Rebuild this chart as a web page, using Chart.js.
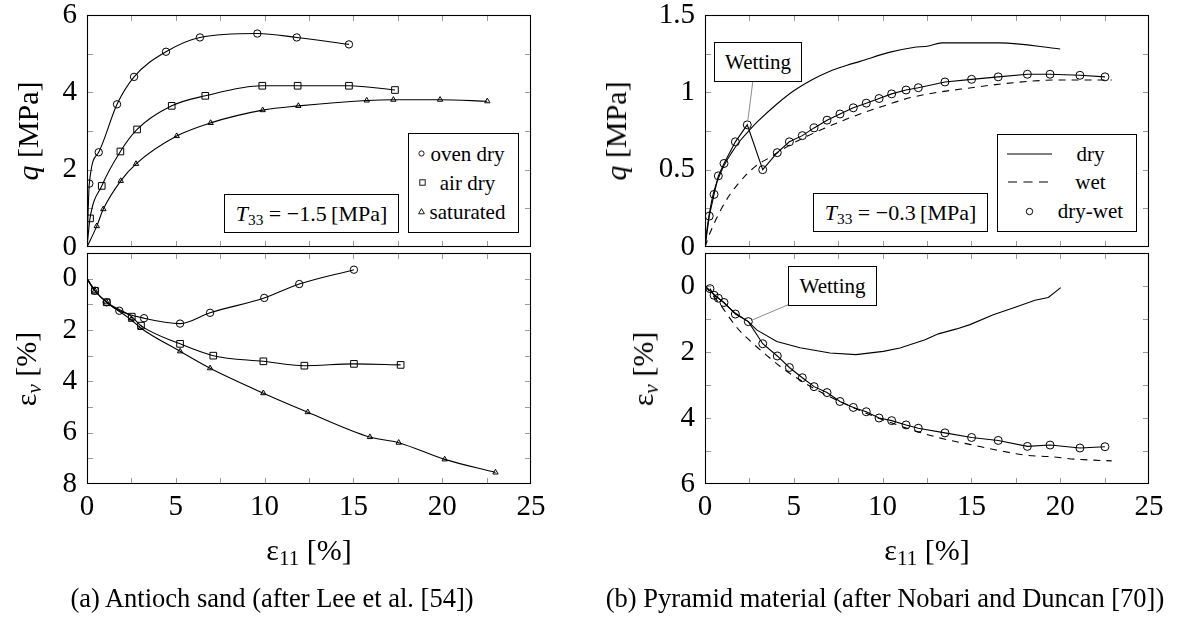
<!DOCTYPE html>
<html><head><meta charset="utf-8">
<script src="https://cdn.jsdelivr.net/npm/chart.js@4.4.1/dist/chart.umd.min.js"></script>
<style>
html,body{margin:0;padding:0;background:#fff;}
#wrap{position:relative;width:1178px;height:619px;overflow:hidden;font-family:"Liberation Serif","Times New Roman",serif;color:#000;}
canvas{position:absolute;left:0;top:0;}
.t{position:absolute;white-space:nowrap;line-height:1;transform:translate(-50%,-50%);}
.rot{transform:translate(-50%,-50%) rotate(-90deg);}
.box{position:absolute;border:1px solid #000;background:#fff;box-sizing:border-box;}
.box svg{position:absolute;}
sub{font-size:70%;vertical-align:-0.25em;line-height:0;}
</style></head>
<body><div id="wrap">
<canvas id="c1" width="1178" height="619"></canvas>
<canvas id="c2" width="1178" height="619"></canvas>
<canvas id="c3" width="1178" height="619"></canvas>
<canvas id="c4" width="1178" height="619"></canvas>

<div class="t rot" style="left:28px;top:131px;font-size:30px;"><i>q</i> [MPa]</div>
<div class="t rot" style="left:26px;top:369px;font-size:30px;">ε<sub><i>v</i></sub> [%]</div>
<div class="t rot" style="left:616px;top:131px;font-size:30px;"><i>q</i> [MPa]</div>
<div class="t rot" style="left:643px;top:369px;font-size:30px;">ε<sub><i>v</i></sub> [%]</div>
<div class="t" style="left:309px;top:550px;font-size:30px;">ε<sub>11</sub> [%]</div>
<div class="t" style="left:927px;top:550px;font-size:30px;">ε<sub>11</sub> [%]</div>
<div class="t" style="left:272px;top:598px;font-size:26.5px;">(a) Antioch sand (after Lee et al. [54])</div>
<div class="t" style="left:885px;top:598px;font-size:26.5px;">(b) Pyramid material (after Nobari and Duncan [70])</div>

<div class="box" style="left:224px;top:194px;width:175px;height:39px;">
  <div class="t" style="left:50%;top:50%;font-size:22px;"><i>T</i><sub>33</sub> = −1.5&thinsp;[MPa]</div>
</div>
<div class="box" style="left:813px;top:193px;width:175px;height:39px;">
  <div class="t" style="left:50%;top:50%;font-size:22px;"><i>T</i><sub>33</sub> = −0.3&thinsp;[MPa]</div>
</div>

<div class="box" style="left:408px;top:133px;width:111px;height:100px;">
  <svg style="left:7.5px;top:15px" width="9" height="9"><circle cx="4.5" cy="4.5" r="2.6" fill="none" stroke="#000" stroke-width="0.9"/></svg>
  <svg style="left:8.5px;top:44px" width="9" height="9"><rect x="1.8" y="1.8" width="5.4" height="5.4" fill="none" stroke="#000" stroke-width="0.9"/></svg>
  <svg style="left:8px;top:73px" width="9" height="9"><polygon points="4.5,1.6 7.4,6.8 1.6,6.8" fill="none" stroke="#000" stroke-width="0.9"/></svg>
  <div class="t" style="left:58.5px;top:19.7px;font-size:21px;">oven dry</div>
  <div class="t" style="left:58.5px;top:48.7px;font-size:21px;">air dry</div>
  <div class="t" style="left:58.5px;top:77.7px;font-size:21px;">saturated</div>
</div>

<div class="box" style="left:997px;top:134px;width:140px;height:98px;">
  <svg style="left:8.7px;top:17.3px" width="46" height="4"><line x1="0" y1="2" x2="45" y2="2" stroke="#000" stroke-width="1.1"/></svg>
  <svg style="left:9.7px;top:45px" width="41" height="4"><line x1="0" y1="2" x2="40" y2="2" stroke="#000" stroke-width="1.1" stroke-dasharray="9,6.5"/></svg>
  <svg style="left:27px;top:71.7px" width="9" height="9"><circle cx="4.5" cy="4.5" r="3.2" fill="none" stroke="#000" stroke-width="1"/></svg>
  <div class="t" style="left:92.5px;top:19.3px;font-size:21px;">dry</div>
  <div class="t" style="left:92.5px;top:47px;font-size:21px;">wet</div>
  <div class="t" style="left:92.5px;top:76px;font-size:21px;">dry-wet</div>
</div>

<div class="box" style="left:714px;top:42px;width:88px;height:40px;">
  <div class="t" style="left:50%;top:50%;font-size:21px;">Wetting</div>
</div>
<div class="box" style="left:788px;top:266px;width:89px;height:40px;">
  <div class="t" style="left:50%;top:50%;font-size:21px;">Wetting</div>
</div>
</div>

<script>
// ---------- tick labels ----------
const xTickLabels = [0, 5, 10, 15, 20, 25];
const antQTickLabels = [0, 2, 4, 6];
const antEvTickLabels = [0, 2, 4, 6, 8];
const pyrQTickLabels = [0, 0.5, 1, 1.5];
const pyrEvTickLabels = [0, 2, 4, 6];

// ---------- (a) Antioch sand: q [MPa] vs eps11 [%] ----------
const antOvenDryQ = [[0,0],[0.13,1.64],[0.66,2.45],[1.69,3.69],[2.65,4.40],[4.45,5.05],[6.36,5.42],[9.59,5.52],[11.81,5.42],[14.75,5.24]];
const antAirDryQ = [[0,0],[0.17,0.74],[0.83,1.58],[1.88,2.47],[2.82,3.04],[4.77,3.65],[6.66,3.91],[9.87,4.17],[11.86,4.17],[14.75,4.17],[17.34,4.06]];
const antSaturatedQ = [[0,0],[0.55,0.54],[0.92,0.98],[1.90,1.71],[2.76,2.15],[5.05,2.87],[6.96,3.21],[9.89,3.54],[11.90,3.65],[15.75,3.79],[17.25,3.81],[19.88,3.81],[22.54,3.77]];

// ---------- (a) Antioch sand: eps_v [%] vs eps11 [%] ----------
const antOvenDryEv = [[0,0],[0.45,0.47],[1.11,0.92],[1.82,1.25],[3.21,1.54],[5.24,1.75],[6.93,1.33],[9.98,0.75],[11.95,0.21],[15.03,-0.35]];
const antAirDryEv = [[0,0],[0.45,0.47],[1.11,0.92],[2.52,1.48],[3.04,1.83],[5.24,2.54],[7.11,3.00],[9.93,3.22],[12.24,3.39],[15.03,3.32],[17.66,3.36]];
const antSaturatedEv = [[0,0],[0.45,0.47],[1.11,0.92],[2.48,1.60],[3.02,1.92],[5.24,2.83],[6.93,3.49],[9.93,4.46],[12.43,5.20],[15.93,6.17],[17.55,6.39],[20.14,7.04],[23.0,7.55]];

// ---------- (b) Pyramid material: q [MPa] ----------
const pyrDryQ = [[0,0],[0.13,0.13],[0.25,0.22],[0.5,0.36],[1,0.51],[1.5,0.61],[2,0.69],[2.5,0.755],[3,0.815],[4,0.92],[5,1.01],[6,1.08],[7,1.135],[8,1.175],[8.73,1.20],[10.42,1.26],[11.73,1.29],[12.58,1.30],[13.33,1.32],[16.61,1.32],[20,1.28]];
const pyrWetQ = [[0,0],[0.28,0.09],[1.13,0.29],[1.88,0.41],[2.82,0.52],[3.66,0.58],[4.79,0.66],[6.29,0.745],[7.6,0.81],[8.73,0.86],[9.48,0.89],[11.73,0.97],[15.01,1.03],[18.12,1.07],[20,1.08],[22.9,1.08]];
const pyrDryWetQ = [[0,0],[0.24,0.20],[0.51,0.34],[0.75,0.46],[1.07,0.54],[1.71,0.68],[2.38,0.79],[3.25,0.50],[4.07,0.61],[4.75,0.68],[5.48,0.72],[6.14,0.77],[6.87,0.82],[7.6,0.86],[8.35,0.90],[9.08,0.93],[9.8,0.96],[10.51,0.99],[11.32,1.015],[12.01,1.03],[13.51,1.067],[15.01,1.084],[16.51,1.10],[18.15,1.117],[19.43,1.117],[21.11,1.11],[22.52,1.10]];

// ---------- (b) Pyramid material: eps_v [%] ----------
const pyrDryEv = [[0,0],[0.5,0.25],[1,0.48],[1.7,0.82],[2.44,1.08],[2.91,1.33],[4.04,1.68],[5.35,1.87],[7.04,2.03],[8.5,2.08],[10.04,1.98],[10.98,1.88],[12.39,1.63],[13.14,1.45],[14.17,1.30],[14.92,1.17],[16.23,0.87],[17.55,0.63],[18.58,0.43],[19.33,0.35],[20.03,0.05]];
const pyrWetEv = [[0,0],[0.84,0.55],[1.78,1.25],[2.72,1.75],[3.47,2.10],[4.22,2.43],[5,2.73],[6,3.06],[7,3.35],[8,3.60],[9,3.84],[10,4.05],[11,4.24],[12,4.42],[13.4,4.63],[14.9,4.80],[16.4,4.97],[18.1,5.13],[19.4,5.17],[20.9,5.25],[22.9,5.30]];
const pyrDryWetEv = [[0.28,0.08],[0.51,0.28],[0.75,0.37],[1.07,0.50],[1.71,0.85],[2.44,1.08],[3.25,1.75],[4.07,2.12],[4.75,2.47],[5.48,2.78],[6.14,3.05],[6.87,3.23],[7.6,3.50],[8.35,3.68],[9.08,3.81],[9.8,4.00],[10.51,4.08],[11.32,4.21],[12.01,4.31],[13.51,4.45],[15.01,4.59],[16.51,4.68],[18.15,4.86],[19.43,4.82],[21.11,4.91],[22.52,4.87]];

// ---------- helpers ----------
const tickFont = {family: '"Liberation Serif","Times New Roman",serif', size: 29};
const pts = arr => arr.map(p => ({x: p[0], y: p[1]}));
function lab(v, list) {
  return list.some(l => Math.abs(l - v) < 1e-9) ? String(Math.round(v * 100) / 100) : '';
}
function zeroPad(s) { s.paddingLeft = 0; s.paddingRight = 0; s.paddingTop = 0; s.paddingBottom = 0; }

const framePlugin = {
  id: 'frame',
  beforeDatasetsDraw(chart) {
    const ctx = chart.ctx, a = chart.chartArea, xs = chart.scales.x, ys = chart.scales.y, L = 6;
    ctx.save();
    ctx.strokeStyle = '#9a9a9a'; ctx.lineWidth = 1;
    ctx.beginPath();
    xs.ticks.forEach(t => {
      const p = Math.round(xs.getPixelForValue(t.value)) + 0.5;
      if (p < a.left + 2 || p > a.right - 2) return;
      ctx.moveTo(p, a.top); ctx.lineTo(p, a.top + L);
      ctx.moveTo(p, a.bottom); ctx.lineTo(p, a.bottom - L);
    });
    ys.ticks.forEach(t => {
      const p = Math.round(ys.getPixelForValue(t.value)) + 0.5;
      if (p < a.top + 2 || p > a.bottom - 2) return;
      ctx.moveTo(a.left, p); ctx.lineTo(a.left + L, p);
      ctx.moveTo(a.right, p); ctx.lineTo(a.right - L, p);
    });
    ctx.stroke();
    ctx.restore();
  },
  afterDraw(chart) {
    const ctx = chart.ctx, a = chart.chartArea;
    ctx.save();
    ctx.strokeStyle = '#000'; ctx.lineWidth = 1.1;
    ctx.strokeRect(a.left + 0.5, a.top + 0.5, a.right - a.left - 1, a.bottom - a.top - 1);
    ctx.restore();
  }
};

function leader(dsIndex, ptIndex, bx, by, r) {
  return {
    id: 'leader',
    afterDatasetsDraw(chart) {
      const el = chart.getDatasetMeta(dsIndex).data[ptIndex];
      const ctx = chart.ctx;
      const dx = el.x - bx, dy = el.y - by, d = Math.hypot(dx, dy);
      ctx.save();
      ctx.strokeStyle = '#8c8c8c'; ctx.lineWidth = 1;
      ctx.beginPath();
      ctx.moveTo(bx, by);
      ctx.lineTo(el.x - dx / d * r, el.y - dy / d * r);
      ctx.stroke();
      ctx.restore();
    }
  };
}

function series(data, style, radius, opts) {
  const hasOrigin = data.length && data[0][0] === 0 && data[0][1] === 0;
  return Object.assign({
    data: pts(data),
    borderColor: '#000', borderWidth: 1.1, fill: false,
    pointStyle: style || 'circle',
    pointRadius: style ? (c => (hasOrigin && c.dataIndex === 0) ? 0 : radius) : 0,
    pointBorderColor: '#000', pointBorderWidth: 1,
    pointBackgroundColor: 'rgba(0,0,0,0)',
    tension: 0.4, cubicInterpolationMode: 'monotone'
  }, opts || {});
}

function panel(id, pad, showX, ycfg, datasets, extra) {
  return new Chart(document.getElementById(id), {
    type: 'line',
    data: {datasets},
    options: {
      responsive: false, animation: false, devicePixelRatio: 1,
      layout: {padding: pad},
      plugins: {legend: {display: false}, tooltip: {enabled: false}},
      scales: {
        x: {
          type: 'linear', min: 0, max: 25,
          grid: {display: false, drawTicks: false}, border: {display: false},
          ticks: {display: showX, stepSize: 2.5, autoSkip: false, maxRotation: 0, padding: 6,
                  color: '#000', font: tickFont, callback: v => lab(v, xTickLabels)},
          afterFit: s => { s.height = showX ? 40 : 0; zeroPad(s); }
        },
        y: {
          type: 'linear', min: ycfg.min, max: ycfg.max, reverse: !!ycfg.reverse,
          grid: {display: false, drawTicks: false}, border: {display: false},
          ticks: {stepSize: ycfg.step, autoSkip: false, padding: 10,
                  color: '#000', font: tickFont, callback: v => lab(v, ycfg.labels)},
          afterFit: s => { s.width = 80; zeroPad(s); }
        }
      }
    },
    plugins: [framePlugin].concat(extra || [])
  });
}

// (a) top: q
panel('c1', {left: 7, top: 15, right: 647, bottom: 372}, false,
  {min: 0, max: 6, step: 1, labels: antQTickLabels},
  [series(antOvenDryQ, 'circle', 3.7),
   series(antAirDryQ, 'rect', 4.7),
   series(antSaturatedQ, 'triangle', 3.1)]);

// (a) bottom: eps_v
panel('c2', {left: 7, top: 253, right: 647, bottom: 95}, true,
  {min: -1, max: 8, step: 1, reverse: true, labels: antEvTickLabels},
  [series(antOvenDryEv, 'circle', 3.7),
   series(antAirDryEv, 'rect', 4.7),
   series(antSaturatedEv, 'triangle', 3.1)]);

// (b) top: q
panel('c3', {left: 625, top: 15, right: 29, bottom: 372}, false,
  {min: 0, max: 1.5, step: 0.25, labels: pyrQTickLabels},
  [series(pyrDryQ, null, 0),
   series(pyrWetQ, null, 0, {borderDash: [7, 6]}),
   series(pyrDryWetQ, 'circle', 4, {tension: 0, cubicInterpolationMode: 'default'})],
  [leader(2, 6, 753, 80, 4)]);

// (b) bottom: eps_v
panel('c4', {left: 625, top: 253, right: 29, bottom: 95}, true,
  {min: -1, max: 6, step: 1, reverse: true, labels: pyrEvTickLabels},
  [series(pyrDryEv, null, 0, {tension: 0, cubicInterpolationMode: 'default'}),
   series(pyrWetEv, null, 0, {borderDash: [7, 6]}),
   series(pyrDryWetEv, 'circle', 4, {tension: 0, cubicInterpolationMode: 'default'})],
  [leader(2, 5, 790, 304, 4)]);
</script>
</body></html>
